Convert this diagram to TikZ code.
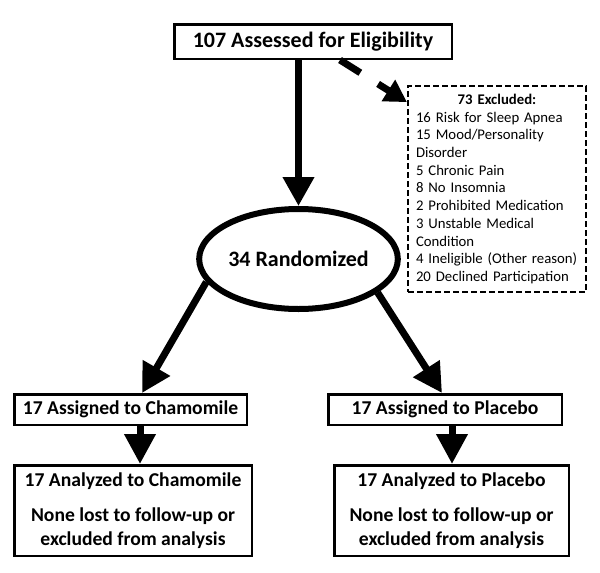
\documentclass[tikz,border=0pt]{standalone}
\usepackage{fontspec}
\setmainfont{Carlito}
\usetikzlibrary{arrows.meta,shapes.geometric}
\begin{document}
\begin{tikzpicture}[x=1pt,y=-1pt,
  solidbox/.style={draw,line width=2.5pt,inner sep=0pt,align=center,
    font=\fontsize{19.6}{24}\selectfont\bfseries},
  exclbox/.style={draw,line width=2pt,dash pattern=on 6pt off 3pt,inner sep=8pt,
    text width=162pt,align=left,minimum width=178pt,minimum height=198pt,
    font=\fontsize{14.75}{17.7}\selectfont},
  randell/.style={draw,ellipse,line width=6pt,inner sep=0pt,minimum width=187pt,
    minimum height=100pt,font=\fontsize{22}{26}\selectfont\bfseries},
  bigarrow/.style={line width=7pt,-{Triangle[length=29pt,width=30pt]}},
  midarrow/.style={line width=7pt,-{Triangle[length=30pt,width=30pt]}},
  dasharrow/.style={line width=7pt,dash pattern=on 24pt off 21pt,-{Triangle[length=22pt,width=24pt]}}
]
\useasboundingbox (0,0) rectangle (600,573);

\node[solidbox,minimum width=277.5pt,minimum height=34.5pt,font=\fontsize{22}{26}\selectfont\bfseries]
  (top) at (313,41.5) {107 Assessed for Eligibility};

\node[exclbox] (excl) at (497,189) {\makebox[162pt][c]{\bfseries 73 Excluded:}\\
16 Risk for Sleep Apnea\\
15 Mood/Personality\\
Disorder\\
5 Chronic Pain\\
8 No Insomnia\\
2 Prohibited Medication\\
3 Unstable Medical\\
Condition\\
4 Ineligible (Other reason)\\
20 Declined Participation};

\node[randell] (rand) at (298.5,259) {34 Randomized};

\node[solidbox,minimum width=232.5pt,minimum height=30.5pt] (ass1) at (130.5,409.5) {17 Assigned to Chamomile};
\node[solidbox,minimum width=233.5pt,minimum height=30.5pt] (ass2) at (445,409.5) {17 Assigned to Placebo};

\node[solidbox,minimum width=237.5pt,minimum height=90.5pt] (ana1) at (133,510.5)
  {17 Analyzed to Chamomile\\[11pt]None lost to follow-up or\\excluded from analysis};
\node[solidbox,minimum width=234.5pt,minimum height=90.5pt] (ana2) at (451.5,510.5)
  {17 Analyzed to Placebo\\[11pt]None lost to follow-up or\\excluded from analysis};

\draw[bigarrow] (top.south -| rand.north) -- (rand.north);
\draw[dasharrow] ([xshift=27pt]top.south) -- ([yshift=-17pt]excl.north west);
\draw[bigarrow] (rand.194.4) -- ([xshift=11.5pt]ass1.north);
\draw[bigarrow] (rand.337.1) -- ([xshift=-3pt]ass2.north);
\draw[midarrow] ([xshift=9.5pt]ass1.south) -- ([xshift=7pt]ana1.north);
\draw[midarrow] ([xshift=7pt]ass2.south) -- ([xshift=0.5pt]ana2.north);
\end{tikzpicture}
\end{document}
